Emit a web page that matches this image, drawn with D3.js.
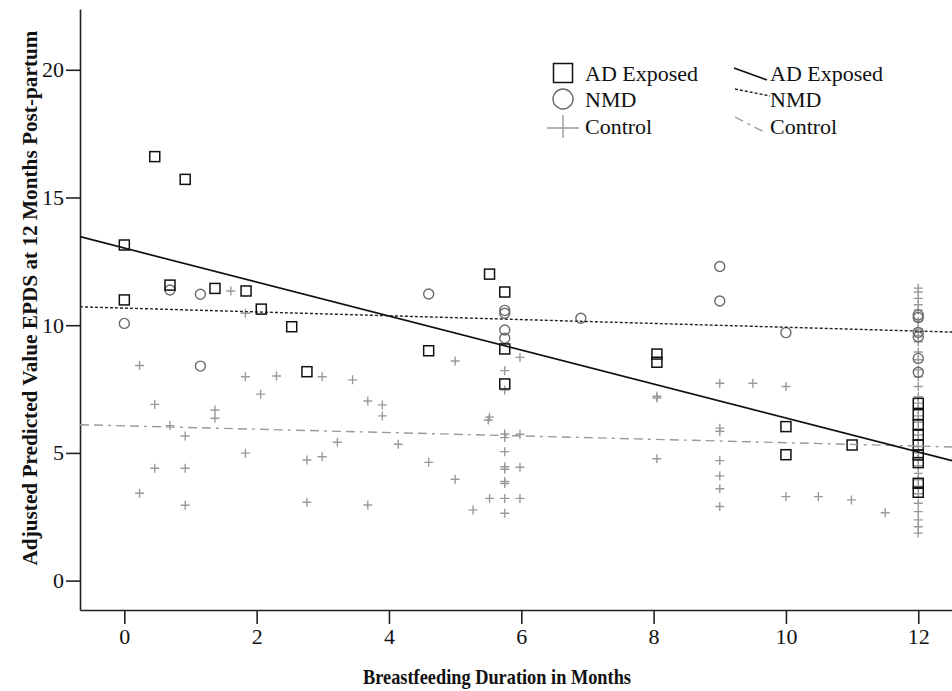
<!DOCTYPE html>
<html>
<head>
<meta charset="utf-8">
<script src="https://cdn.jsdelivr.net/npm/d3@7"></script>
<style>
  html, body { margin: 0; padding: 0; background: #fff; }
  svg { display: block; }
  text { font-family: "Liberation Serif", "Times New Roman", serif; }
</style>
</head>
<body>
<svg id="chart" width="952" height="691"></svg>
<script>
// ---- Data ----
const xTicks = [0, 2, 4, 6, 8, 10, 12];
const yTicks = [0, 5, 10, 15, 20];
const xTitle = "Breastfeeding Duration in Months";
const yTitle = "Adjusted Predicted Value EPDS at 12 Months Post-partum";
const groups = ["AD Exposed", "NMD", "Control"];

const adExposed = [
  [0, 13.14], [0, 10.99], [0.46, 16.6], [0.92, 15.71], [0.69, 11.57], [1.37, 11.44],
  [1.84, 11.34], [2.07, 10.63], [2.53, 9.94], [2.76, 8.18], [4.6, 9.0], [5.52, 12.0],
  [5.75, 11.3], [5.75, 9.07], [5.75, 7.7], [8.05, 8.87], [8.05, 8.55], [10, 6.03],
  [10, 4.93], [11, 5.31], [12, 6.94], [12, 6.5], [12, 6.1], [12, 5.7], [12, 5.31],
  [12, 4.92], [12, 4.62], [12, 3.81], [12, 3.46]
];
const nmd = [
  [0, 10.07], [0.69, 11.38], [1.15, 11.21], [1.15, 8.4], [4.6, 11.22], [5.75, 10.58],
  [5.75, 10.47], [5.75, 9.81], [5.75, 9.49], [6.9, 10.27], [9, 12.3], [9, 10.95],
  [10, 9.71], [12, 10.4], [12, 10.3], [12, 9.72], [12, 9.55], [12, 8.7], [12, 8.16]
];
const control = [
  [0.23, 8.42], [0.46, 6.9], [0.69, 6.07], [0.92, 5.66], [0.46, 4.4], [0.92, 4.4],
  [0.23, 3.42], [0.92, 2.95], [1.37, 6.68], [1.37, 6.36], [1.61, 11.34], [1.83, 10.47],
  [1.83, 7.98], [2.3, 8.01], [2.06, 7.3], [1.83, 4.99], [2.99, 7.98], [3.45, 7.86],
  [2.76, 4.72], [2.99, 4.85], [2.76, 3.07], [3.22, 5.42], [3.68, 7.03], [3.9, 6.88],
  [3.9, 6.45], [4.14, 5.34], [3.68, 2.96], [4.6, 4.63], [5.0, 8.6], [5.98, 8.74],
  [5.75, 8.22], [5.75, 7.46], [5.52, 6.4], [5.5, 6.29], [5.75, 5.74], [5.75, 5.6],
  [5.98, 5.73], [5.75, 5.05], [5.75, 4.46], [5.75, 4.36], [5.98, 4.44], [5.0, 3.97],
  [5.75, 3.88], [5.75, 3.8], [5.52, 3.22], [5.75, 3.22], [5.98, 3.22], [5.27, 2.77],
  [5.75, 2.64], [8.05, 7.22], [8.05, 7.15], [8.05, 4.77], [9, 7.73], [9, 5.97],
  [9, 5.85], [9, 4.7], [9, 4.1], [9, 3.6], [9, 2.9], [9.5, 7.73], [10, 7.6],
  [10, 3.29], [10.49, 3.29], [10.99, 3.16], [11.5, 2.66],
  [12, 11.45], [12, 11.3], [12, 11.05], [12, 10.8], [12, 10.6], [12, 10.15], [12, 9.85],
  [12, 9.6], [12, 9.35], [12, 8.95], [12, 8.65], [12, 8.25], [12, 7.98], [12, 7.6],
  [12, 7.2], [12, 6.95], [12, 6.7], [12, 6.45], [12, 6.2], [12, 5.95], [12, 5.7],
  [12, 5.5], [12, 5.25], [12, 5.0], [12, 4.75], [12, 4.5], [12, 4.2], [12, 3.95],
  [12, 3.7], [12, 3.4], [12, 3.03], [12, 2.7], [12, 2.38], [12, 2.11], [12, 1.86]
];
// fitted lines: [intercept, slope]
const fitAD = [13.02, -0.665];
const fitNMD = [10.67, -0.075];
const fitControl = [6.06, -0.066];

// ---- Layout ----
const svg = d3.select("#chart");
const x = d3.scaleLinear().domain([-0.67, 12.51]).range([80, 952]);
const y = d3.scaleLinear().domain([-1.15, 22.38]).range([610, 9]);

// axes
const xAxis = d3.axisBottom(x).tickValues(xTicks).tickSize(14).tickPadding(4).tickSizeOuter(0);
const gx = svg.append("g").attr("transform", "translate(0,610)").call(xAxis);
const yAxis = d3.axisLeft(y).tickValues(yTicks).tickSize(14).tickPadding(2).tickSizeOuter(0);
const gy = svg.append("g").attr("transform", "translate(80,0)").call(yAxis);
[gx, gy].forEach(g => {
  g.select(".domain").attr("stroke", "#222").attr("stroke-width", 1.6);
  g.selectAll(".tick line").attr("stroke", "#222").attr("stroke-width", 1.6);
  g.selectAll(".tick text").attr("fill", "#111").attr("font-size", 22)
    .style("font-family", '"Liberation Serif", "Times New Roman", serif');
});
gx.selectAll(".tick text").attr("dy", "0.71em");

// titles
svg.append("text").attr("x", 497).attr("y", 684).attr("text-anchor", "middle")
  .attr("font-size", 21).attr("font-weight", "bold").attr("fill", "#111")
  .attr("textLength", 268).attr("lengthAdjust", "spacingAndGlyphs").text(xTitle);
svg.append("text").attr("transform", "translate(37,298) rotate(-90)").attr("text-anchor", "middle")
  .attr("font-size", 21).attr("font-weight", "bold").attr("fill", "#111")
  .attr("textLength", 535).attr("lengthAdjust", "spacingAndGlyphs").text(yTitle);

// clip for plot area
svg.append("clipPath").attr("id", "plotclip").append("rect")
  .attr("x", 80).attr("y", 9).attr("width", 872).attr("height", 601);
const plot = svg.append("g").attr("clip-path", "url(#plotclip)");

// control crosses
const cs = 4.5;
plot.append("g").selectAll("path").data(control).join("path")
  .attr("d", d => {
    const px = x(d[0]), py = y(d[1]);
    return `M${px - cs},${py}H${px + cs}M${px},${py - cs}V${py + cs}`;
  })
  .attr("stroke", "#9a9a9a").attr("stroke-width", 1.4).attr("fill", "none");

// NMD circles
plot.append("g").selectAll("circle").data(nmd).join("circle")
  .attr("cx", d => x(d[0])).attr("cy", d => y(d[1])).attr("r", 5)
  .attr("fill", "none").attr("stroke", "#6a6a6a").attr("stroke-width", 1.4);

// AD squares
const ss = 10;
plot.append("g").selectAll("rect").data(adExposed).join("rect")
  .attr("x", d => x(d[0]) - ss / 2).attr("y", d => y(d[1]) - ss / 2)
  .attr("width", ss).attr("height", ss)
  .attr("fill", "none").attr("stroke", "#111").attr("stroke-width", 1.5);

// fit lines
const xd = x.domain();
function fitLine(f, stroke, width, dash) {
  plot.append("line")
    .attr("x1", x(xd[0])).attr("y1", y(f[0] + f[1] * xd[0]))
    .attr("x2", x(xd[1])).attr("y2", y(f[0] + f[1] * xd[1]))
    .attr("stroke", stroke).attr("stroke-width", width)
    .attr("stroke-dasharray", dash);
}
fitLine(fitControl, "#9a9a9a", 1.4, "9,5,9,5,3,5");
fitLine(fitNMD, "#222", 1.4, "3,2");
fitLine(fitAD, "#111", 1.7, null);

// legend (markers)
const lg = svg.append("g");
const rowY = [73, 99, 126];
lg.append("rect").attr("x", 563 - 9.5).attr("y", rowY[0] - 9.5).attr("width", 19).attr("height", 19)
  .attr("fill", "none").attr("stroke", "#111").attr("stroke-width", 1.5);
lg.append("circle").attr("cx", 563).attr("cy", rowY[1]).attr("r", 10)
  .attr("fill", "none").attr("stroke", "#6a6a6a").attr("stroke-width", 1.4);
lg.append("path").attr("d", `M547,${rowY[2] + 2}H579M563,${rowY[2] - 11}V${rowY[2] + 12}`)
  .attr("stroke", "#9a9a9a").attr("stroke-width", 1.4);
groups.forEach((g, i) => {
  lg.append("text").attr("x", 585).attr("y", rowY[i] + 8).attr("font-size", 22)
    .attr("fill", "#111").text(g);
});
// legend (lines)
lg.append("line").attr("x1", 734).attr("y1", 68).attr("x2", 767).attr("y2", 80)
  .attr("stroke", "#111").attr("stroke-width", 1.7);
lg.append("line").attr("x1", 735).attr("y1", 89).attr("x2", 770).attr("y2", 96)
  .attr("stroke", "#222").attr("stroke-width", 1.4).attr("stroke-dasharray", "3,2");
lg.append("line").attr("x1", 735).attr("y1", 117).attr("x2", 764).attr("y2", 132)
  .attr("stroke", "#9a9a9a").attr("stroke-width", 1.4).attr("stroke-dasharray", "9,5,3,5");
groups.forEach((g, i) => {
  lg.append("text").attr("x", 770).attr("y", rowY[i] + 8).attr("font-size", 22)
    .attr("fill", "#111").text(g);
});
</script>
</body>
</html>
